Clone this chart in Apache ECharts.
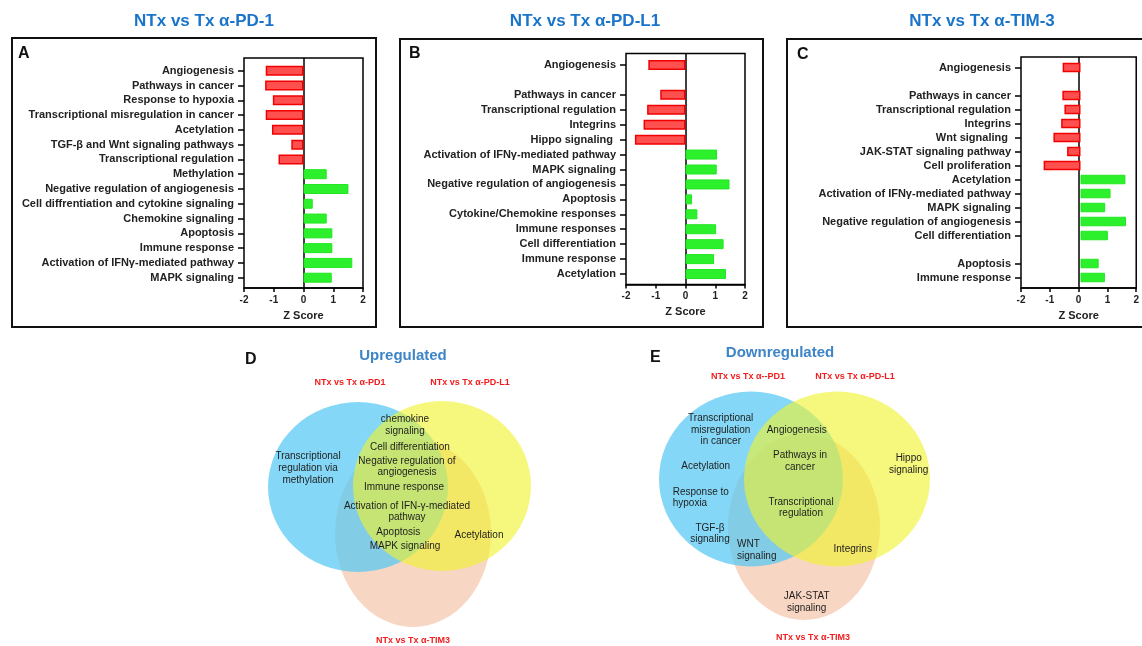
<!DOCTYPE html>
<html>
<head>
<meta charset="utf-8">
<title>Z score pathways</title>
<script src="https://cdn.jsdelivr.net/npm/echarts@6/dist/echarts.min.js"></script>
<style>
  html, body { margin: 0; padding: 0; background: #fff; }
  #main { width: 1142px; height: 646px; }
</style>
</head>
<body>
<div id="main"></div>
<script>
// ---- data: bar charts (Z scores) ----
var titles = ['NTx vs Tx α-PD-1', 'NTx vs Tx α-PD-L1', 'NTx vs Tx α-TIM-3'];
var letters = ['A', 'B', 'C'];
var xTicks = [-2, -1, 0, 1, 2];

var catsA = ['Angiogenesis', 'Pathways in cancer', 'Response to hypoxia', 'Transcriptional misregulation in cancer',
  'Acetylation', 'TGF-β and Wnt signaling pathways', 'Transcriptional regulation', 'Methylation',
  'Negative regulation of angiogenesis', 'Cell diffrentiation and cytokine signaling', 'Chemokine signaling',
  'Apoptosis', 'Immune response', 'Activation of IFNγ-mediated pathway', 'MAPK signaling'];
var valsA = [-1.27, -1.29, -1.03, -1.27, -1.06, -0.41, -0.84, 0.78, 1.51, 0.31, 0.78, 0.97, 0.97, 1.64, 0.95];

var catsB = ['Angiogenesis', '', 'Pathways in cancer', 'Transcriptional regulation', 'Integrins', 'Hippo signaling ',
  'Activation of IFNγ-mediated pathway', 'MAPK signaling', 'Negative regulation of angiogenesis', 'Apoptosis',
  'Cytokine/Chemokine responses', 'Immune responses', 'Cell differentiation', 'Immune response', 'Acetylation'];
var valsB = [-1.25, null, -0.85, -1.29, -1.41, -1.70, 1.06, 1.05, 1.48, 0.22, 0.40, 1.03, 1.28, 0.96, 1.36];

var catsC = ['Angiogenesis', '', 'Pathways in cancer', 'Transcriptional regulation', 'Integrins', 'Wnt signaling ',
  'JAK-STAT signaling pathway', 'Cell proliferation', 'Acetylation', 'Activation of IFNγ-mediated pathway',
  'MAPK signaling', 'Negative regulation of angiogenesis', 'Cell differentiation', ' ', 'Apoptosis', 'Immune response'];
var valsC = [-0.60, null, -0.61, -0.54, -0.65, -0.91, -0.45, -1.24, 1.51, 1.01, 0.83, 1.53, 0.92, null, 0.61, 0.82];

// ---- data: Venn diagrams ----
var setNamesUp = ['NTx vs Tx α-PD1', 'NTx vs Tx α-PD-L1', 'NTx vs Tx α-TIM3'];
var setNamesDown = ['NTx vs Tx α--PD1', 'NTx vs Tx α-PD-L1', 'NTx vs Tx α-TIM3'];
var upPD1Only = ['Transcriptional\nregulation via\nmethylation'];
var upAll = ['chemokine\nsignaling', 'Cell differentiation', 'Negative regulation of\nangiogenesis', 'Immune response',
  'Activation of IFN-γ-mediated\npathway', 'Apoptosis', 'MAPK signaling'];
var upPDL1TIM3 = ['Acetylation'];
var downPD1Only = ['Transcriptional\nmisregulation\nin cancer', 'Acetylation', 'Response to\nhypoxia', 'TGF-β\nsignaling'];
var downPD1TIM3 = ['WNT\nsignaling'];
var downAll = ['Angiogenesis', 'Pathways in\ncancer', 'Transcriptional\nregulation'];
var downPDL1Only = ['Hippo\nsignaling'];
var downPDL1TIM3 = ['Integrins'];
var downTIM3Only = ['JAK-STAT\nsignaling'];

// ---- layout ----
var FONT = '"Liberation Sans", Arial, Helvetica, sans-serif';
var panels = [
  { box: [12, 38, 364, 289], title: 204, letter: [18, 53.5], frame: [244, 58, 119, 230], bars: [63.3, 221.8], bw: 10 },
  { box: [400, 39, 363, 288], title: 585, letter: [409, 53.5], frame: [626, 53.5, 119, 231], bars: [57.5, 224], bw: 10 },
  { box: [787, 39, 420, 288], title: 982, letter: [797, 55], frame: [1021, 57, 119, 231], bars: [60.5, 224], bw: 9.5 }
];
var cats = [catsA, catsB, catsC];
var vals = [valsA, valsB, valsC];

var redStyle = { color: '#ff5050', borderColor: '#f00000', borderWidth: 1.5 };
var greenStyle = { color: '#2cf02c', borderColor: '#22e622', borderWidth: 1 };

var grids = [], xAxes = [], yAxes = [], series = [], graphics = [];

panels.forEach(function (p, i) {
  var f = p.frame;
  // frame grid: carries visible x axis, box, zero line
  grids.push({ left: f[0], top: f[1], width: f[2], height: f[3], show: true,
    borderColor: '#000', borderWidth: 1.5, backgroundColor: 'transparent' });
  // bar grid: band extent of categories
  grids.push({ left: f[0], top: p.bars[0], width: f[2], height: p.bars[1] });

  xAxes.push({
    gridIndex: 2 * i, type: 'value', min: xTicks[0], max: xTicks[xTicks.length - 1], interval: 1,
    name: 'Z Score', nameLocation: 'middle', nameGap: 22,
    nameTextStyle: { fontFamily: FONT, fontWeight: 'bold', fontSize: 11, color: '#222' },
    axisLine: { show: true, onZero: false, lineStyle: { color: '#000', width: 1.5 } },
    axisTick: { show: true, length: 4, lineStyle: { color: '#000', width: 1.5 } },
    axisLabel: { margin: 7, fontFamily: FONT, fontWeight: 'bold', fontSize: 10, color: '#222' },
    splitLine: { show: true, lineStyle: { color: ['rgba(0,0,0,0)', 'rgba(0,0,0,0)', '#000'], width: 1.5 } }
  });
  xAxes.push({ gridIndex: 2 * i + 1, type: 'value', min: xTicks[0], max: xTicks[xTicks.length - 1], show: false });

  yAxes.push({ gridIndex: 2 * i, type: 'value', show: false });
  yAxes.push({
    gridIndex: 2 * i + 1, type: 'category', inverse: true, data: cats[i],
    axisLine: { show: false, onZero: false },
    axisTick: { show: true, alignWithLabel: true, length: 6, lineStyle: { color: '#000', width: 1.5 },
      interval: function (idx, v) { return v.trim() !== ''; } },
    axisLabel: { interval: 0, margin: 10, fontFamily: FONT, fontWeight: 'bold', fontSize: 11, color: '#222' }
  });

  series.push({
    type: 'bar', xAxisIndex: 2 * i + 1, yAxisIndex: 2 * i + 1, barWidth: p.bw, silent: true,
    data: vals[i].map(function (v) {
      return v === null ? '-' : { value: v, itemStyle: v < 0 ? redStyle : greenStyle };
    })
  });

  graphics.push({ type: 'rect', z: 1, shape: { x: p.box[0], y: p.box[1], width: p.box[2], height: p.box[3] },
    style: { fill: 'none', stroke: '#111', lineWidth: 2 } });
  graphics.push({ type: 'text', z: 10, style: { text: titles[i], x: p.title, y: 21, align: 'center', verticalAlign: 'middle',
    font: 'bold 17px ' + FONT, fill: '#1a74c9' } });
  graphics.push({ type: 'text', z: 10, style: { text: letters[i], x: p.letter[0], y: p.letter[1], align: 'left', verticalAlign: 'middle',
    font: 'bold 16px ' + FONT, fill: '#111' } });
});

// ---- Venn diagrams ----
function ellipse(cx, cy, rx, ry, fill) {
  return { type: 'circle', z: 2, x: cx, y: cy, scaleX: rx / ry, scaleY: 1, shape: { cx: 0, cy: 0, r: ry }, style: { fill: fill } };
}
function label(text, x, y, opt) {
  opt = opt || {};
  return { type: 'text', z: 10, style: { text: text, x: x, y: y, align: opt.align || 'center', verticalAlign: 'middle',
    font: (opt.weight || 'normal') + ' ' + (opt.size || 10) + 'px ' + FONT, lineHeight: opt.lh || 11.7,
    fill: opt.fill || '#1e1e1e' } };
}
var peach = 'rgba(240,180,145,0.55)', sky = 'rgba(85,200,242,0.72)', yell = 'rgba(240,242,45,0.62)';

var venns = [
  { ell: [[413, 533, 78, 94], [358, 487, 90, 85], [442, 486, 89, 85]], letter: ['D', 245, 360],
    head: ['Upregulated', 403, 356], names: setNamesUp, namePos: [[350, 383], [470, 383], [413, 641]],
    groups: [
      [upPD1Only, [[308, 468.3]]],
      [upAll, [[405, 425.3], [410, 447.3], [407, 466.7], [404, 487.7], [407, 511.7], [398.3, 532.3], [405, 546]]],
      [upPDL1TIM3, [[479, 535]]]
    ] },
  { ell: [[804, 527, 76, 93], [751, 479, 92, 87.5], [837, 479, 93, 87.5]], letter: ['E', 650, 358],
    head: ['Downregulated', 780, 353], names: setNamesDown, namePos: [[748, 377], [855, 377], [813, 638]],
    groups: [
      [downPD1Only, [[720.7, 430], [705.7, 466.7], [672.7, 497.8, 'left'], [710, 533.8]]],
      [downPD1TIM3, [[737, 550, 'left']]],
      [downAll, [[796.7, 430.7], [800, 461.2], [801, 507.8]]],
      [downPDL1Only, [[908.7, 464.2]]],
      [downPDL1TIM3, [[852.7, 549.3]]],
      [downTIM3Only, [[806.7, 602.2]]]
    ] }
];

venns.forEach(function (v) {
  var fills = [peach, sky, yell];
  v.ell.forEach(function (e, k) { graphics.push(ellipse(e[0], e[1], e[2], e[3], fills[k])); });
  graphics.push(label(v.letter[0], v.letter[1], v.letter[2], { align: 'left', weight: 'bold', size: 16, fill: '#111' }));
  graphics.push(label(v.head[0], v.head[1], v.head[2], { weight: 'bold', size: 15, fill: '#3d85c6' }));
  v.names.forEach(function (n, k) {
    graphics.push(label(n, v.namePos[k][0], v.namePos[k][1], { weight: 'bold', size: 9, fill: '#f21d1d' }));
  });
  v.groups.forEach(function (g) {
    g[0].forEach(function (t, k) {
      var pos = g[1][k];
      graphics.push(label(t, pos[0], pos[1], { align: pos[2] || 'center' }));
    });
  });
});

var myChart = echarts.init(document.getElementById('main'), null, { renderer: 'canvas' });
myChart.setOption({
  animation: false,
  backgroundColor: '#fff',
  grid: grids,
  xAxis: xAxes,
  yAxis: yAxes,
  series: series,
  graphic: { elements: graphics }
});
</script>
</body>
</html>
